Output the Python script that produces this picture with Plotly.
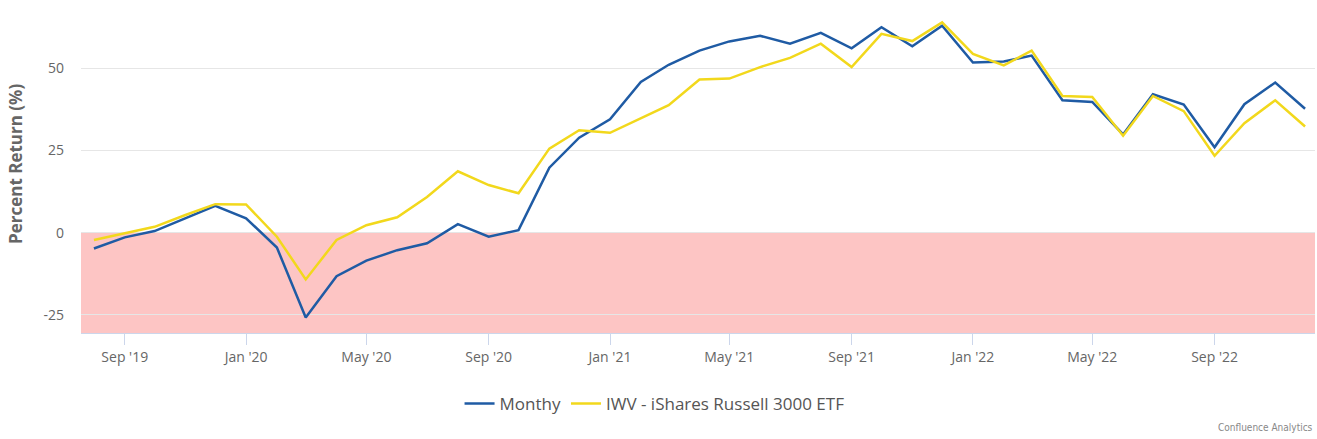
import plotly.graph_objects as go
import pandas as pd

# ---- data ----
months = pd.date_range("2019-08-01", "2022-12-01", freq="MS")

monthy = [
    -4.8, -1.4, 0.5, 4.4, 8.2,          # Aug-Dec 2019
    4.4, -4.5, -25.8, -13.2, -8.5, -5.3, -3.2, 2.6, -1.2, 0.8, 19.8, 28.9,   # 2020
    34.5, 45.9, 51.1, 55.4, 58.2, 59.9, 57.5, 60.8, 56.1, 62.5, 56.7, 63.0,  # 2021
    51.8, 52.1, 53.9, 40.3, 39.8, 29.9, 42.1, 39.0, 26.0, 39.1, 45.7, 37.7,  # 2022
]
iwv = [
    -2.2, -0.2, 1.8, 5.4, 8.7,
    8.6, -1.2, -14.2, -2.2, 2.3, 4.7, 10.9, 18.7, 14.5, 12.0, 25.6, 31.2,
    30.4, 34.8, 38.8, 46.6, 46.9, 50.4, 53.2, 57.5, 50.4, 60.5, 58.3, 64.0,
    54.4, 50.9, 55.4, 41.6, 41.3, 29.5, 41.6, 37.0, 23.4, 33.3, 40.3, 32.3,
]

tick_dates = ["2019-09-01", "2020-01-01", "2020-05-01", "2020-09-01", "2021-01-01",
              "2021-05-01", "2021-09-01", "2022-01-01", "2022-05-01", "2022-09-01"]
tick_labels = ["Sep '19", "Jan '20", "May '20", "Sep '20", "Jan '21",
               "May '21", "Sep '21", "Jan '22", "May '22", "Sep '22"]
y_ticks = [-25, 0, 25, 50]
y_tick_labels = ["-25", "0", "25", "50"]

series_names = ["Monthy", "IWV - iShares Russell 3000 ETF"]
series_colors = ["#1f5ba4", "#f2d81c"]

FONT = "'Open Sans', Lato, sans-serif"

fig = go.Figure()
for name, vals, col in zip(series_names, [monthy, iwv], series_colors):
    fig.add_trace(go.Scatter(
        x=months, y=vals, name=name, mode="lines",
        line=dict(color=col, width=2.5),
    ))

# negative-region band
fig.add_shape(type="rect", xref="paper", yref="y", x0=0, x1=1, y0=-30.5, y1=0,
              fillcolor="#fdc5c4", line=dict(width=0), layer="below")

fig.update_layout(
    width=1317, height=439,
    margin=dict(l=81, r=2, t=0, b=106),
    paper_bgcolor="white", plot_bgcolor="white",
    font=dict(family=FONT, color="#666666", size=14),
    showlegend=True,
    legend=dict(orientation="h", xref="container", yref="container",
                x=0.497, xanchor="center", y=0.08, yanchor="middle",
                font=dict(size=17, color="#555555"), itemwidth=30,
                traceorder="normal"),
    xaxis=dict(
        type="date",
        range=["2019-07-19", "2022-12-11"],
        tickvals=tick_dates, ticktext=tick_labels,
        showgrid=False, showline=True, linecolor="#ccd6eb", linewidth=1,
        ticks="outside", ticklen=11, tickcolor="#ccd6eb",
        tickfont=dict(size=14, color="#666666"),
        zeroline=False,
    ),
    yaxis=dict(
        range=[-30.5, 70.8],
        tickvals=y_ticks, ticktext=y_tick_labels,
        showgrid=True, gridcolor="#e6e6e6", gridwidth=1,
        zeroline=False, showline=False,
        ticks="", ticklabelstandoff=16,
        tickfont=dict(size=14, color="#666666"),
    ),
    annotations=[
        dict(text="<b>Percent Return (%)</b>", textangle=-90,
             xref="paper", yref="paper", x=(15 - 81) / 1234, y=(333 - 164) / 333,
             xanchor="center", yanchor="middle", showarrow=False,
             font=dict(size=17, color="#666666", family=FONT)),
        dict(text="Confluence Analytics", xref="paper", yref="paper",
             x=1, y=(333 - 428) / 333, xanchor="right", yanchor="middle",
             showarrow=False,
             font=dict(size=10, color="#888888",
                       family="'Liberation Sans Narrow', 'DejaVu Sans Condensed', sans-serif")),
    ],
)

fig.write_html("out.html", config={"displayModeBar": False},
               post_script="document.body.style.margin='0px';")
